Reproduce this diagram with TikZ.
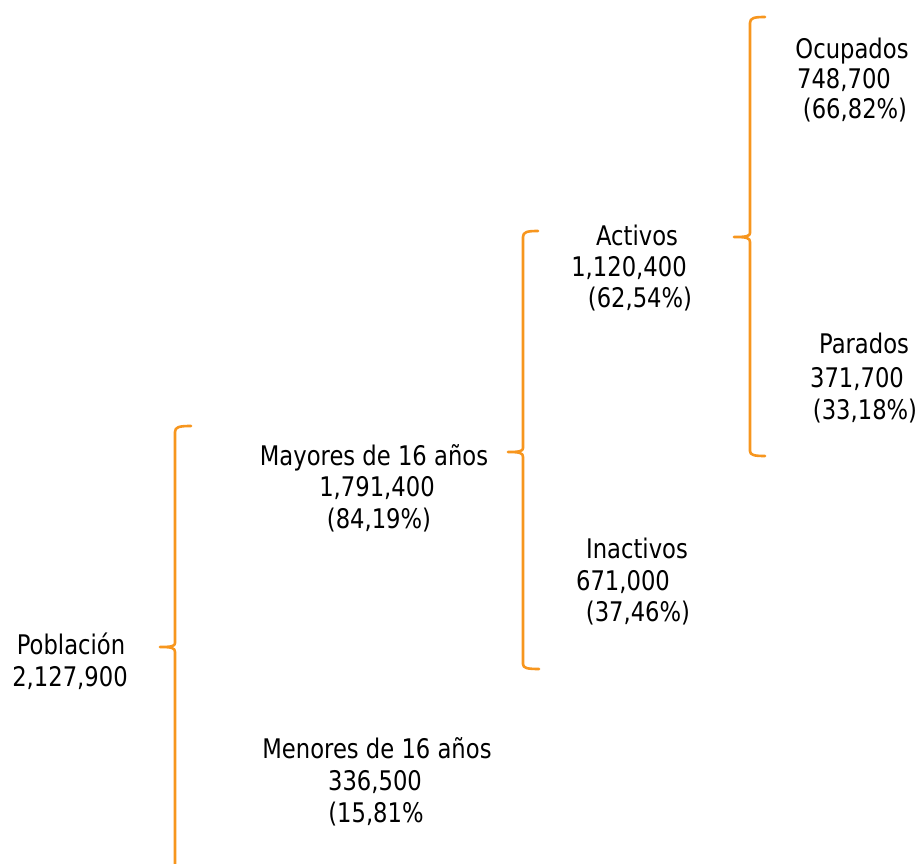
\documentclass[tikz,border=0pt]{standalone}
\usepackage{fontspec}
\setmainfont{DejaVu Sans}[FakeStretch=0.84]
\definecolor{braceor}{RGB}{247,150,30}
\tikzset{
  lbl/.style={anchor=base, inner sep=0pt, font=\fontsize{27}{31}\selectfont, text=black},
  brc/.style={draw=braceor, line width=2.6pt, line join=round, line cap=round}
}
\begin{document}
\begin{tikzpicture}[x=1pt,y=-1pt]
\useasboundingbox (0,0) rectangle (919,864);
% text
\node[lbl] (ocu1) at (852,59) {Ocupados};
\node[lbl] (ocu2) at (844,89) {748,700};
\node[lbl] (ocu3) at (855,119) {(66,82\%)};
\node[lbl] (act1) at (637,245) {Activos};
\node[lbl] (act2) at (629,276) {1,120,400};
\node[lbl] (act3) at (640,307) {(62,54\%)};
\node[lbl] (par1) at (864,353) {Parados};
\node[lbl] (par2) at (857,387) {371,700};
\node[lbl] (par3) at (865,419) {(33,18\%)};
\node[lbl] (may1) at (374,465) {Mayores de 16 años};
\node[lbl] (may2) at (377,496) {1,791,400};
\node[lbl] (may3) at (379,528) {(84,19\%)};
\node[lbl] (ina1) at (637,558) {Inactivos};
\node[lbl] (ina2) at (623,590) {671,000};
\node[lbl] (ina3) at (638,621) {(37,46\%)};
\node[lbl] (pob1) at (71,654) {Población};
\node[lbl] (pob2) at (70,686) {2,127,900};
\node[lbl] (men1) at (377,758) {Menores de 16 años};
\node[lbl] (men2) at (375,790) {336,500};
\node[lbl] (men3) at (376,822) {(15,81\%};
% brace coordinates
\coordinate (b1top) at (191,426);
\coordinate (b1tip) at (160,647);
\coordinate (b1bot) at (175,868);
\coordinate (b2top) at (538,231);
\coordinate (b2tip) at (508,452);
\coordinate (b2bot) at (539,669);
\coordinate (b3top) at (765,17);
\coordinate (b3tip) at (734,237);
\coordinate (b3bot) at (765,456);
% braces
\draw[brc] (b1top) .. controls (179,426) and (175,427) .. (175,432)
  -- (175,643) .. controls (175,646) and (172,647) .. (b1tip)
  .. controls (172,647) and (175,648) .. (175,652) -- (b1bot);
\draw[brc] (b2top) .. controls (527,231) and (523,232) .. (523,237)
  -- (523,448) .. controls (523,451) and (520,452) .. (b2tip)
  .. controls (520,452) and (523,453) .. (523,457)
  -- (523,664) .. controls (523,668) and (527,669) .. (b2bot);
\draw[brc] (b3top) .. controls (754,17) and (750,18) .. (750,23)
  -- (750,233) .. controls (750,236) and (747,237) .. (b3tip)
  .. controls (747,237) and (750,238) .. (750,242)
  -- (750,451) .. controls (750,455) and (754,456) .. (b3bot);
\end{tikzpicture}
\end{document}
